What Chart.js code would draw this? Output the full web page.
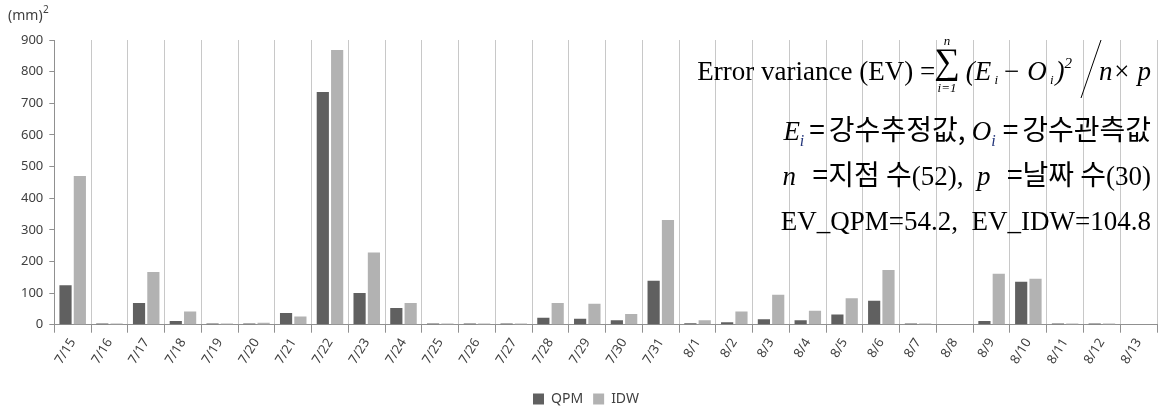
<!DOCTYPE html>
<html>
<head>
<meta charset="utf-8">
<script src="https://cdn.jsdelivr.net/npm/chart.js@4/dist/chart.umd.min.js"></script>
<style>
  html, body { margin: 0; padding: 0; background: #fff; }
  #wrap { position: relative; width: 1161px; height: 413px; }
</style>
</head>
<body>
<div id="wrap"><canvas id="chartCanvas"></canvas></div>
<script>
// 날짜 (카테고리)
const dates = ['7/15','7/16','7/17','7/18','7/19','7/20','7/21','7/22','7/23','7/24',
  '7/25','7/26','7/27','7/28','7/29','7/30','7/31','8/1','8/2','8/3',
  '8/4','8/5','8/6','8/7','8/8','8/9','8/10','8/11','8/12','8/13'];

// 일별 오차분산 (mm)^2
const qpm = [125, 4, 69, 12, 4, 4, 37, 736, 100, 53,
  4, 4, 4, 22, 19, 14, 139, 5, 8, 17,
  14, 32, 76, 4, 0, 12, 136, 4, 4, 0];
const idw = [470, 4, 167, 42, 4, 6, 26, 868, 228, 69,
  4, 4, 4, 69, 66, 34, 331, 14, 42, 95,
  44, 84, 173, 4, 0, 161, 145, 4, 4, 0];

const yTicks = [0, 100, 200, 300, 400, 500, 600, 700, 800, 900];

// 수식 / 주석 그리기
const serif = '"Liberation Serif", "Times New Roman", serif';
const kor = '"Noto Sans CJK KR", sans-serif';

function drawSegs(ctx, segs, right, y) {
  let total = 0;
  segs.forEach(s => { ctx.font = s.font; s.w = ctx.measureText(s.t).width + (s.gap || 0); total += s.w; });
  let x = right - total;
  segs.forEach(s => {
    ctx.font = s.font;
    ctx.fillStyle = s.color || '#000';
    ctx.fillText(s.t, x, y + (s.dy || 0));
    x += s.w;
  });
  return right - total;
}

const notePlugin = {
  id: 'notes',
  afterDraw(chart) {
    const ctx = chart.ctx;
    ctx.save();
    ctx.textBaseline = 'alphabetic';
    ctx.textAlign = 'left';

    // 단위
    ctx.font = '14px "Noto Sans", sans-serif';
    ctx.fillStyle = '#404040';
    ctx.fillText('(mm)', 8, 20);
    ctx.font = '10px "Noto Sans", sans-serif';
    ctx.fillText('2', 43, 13);

    const right = 1151;
    const R = '27px ' + serif, I = 'italic 27px ' + serif, K = '28px ' + kor;
    const Is = 'italic 13px ' + serif, Isub = 'italic 16px ' + serif;
    const subCol = '#23357a';

    // 1행: Error variance (EV) = Σ (Ei - Oi)^2 / n × p
    const y1 = 80;
    const tail = [
      { t: '(', font: I }, { t: 'E', font: I }, { t: ' i', font: Is, dy: 4, gap: 4 },
      { t: '\u2212 ', font: I }, { t: 'O', font: I }, { t: ' i', font: Is, dy: 4, gap: 2 },
      { t: ')', font: I }, { t: '2', font: 'italic 15px ' + serif, dy: -12, gap: 27 },
      { t: 'n\u00d7 p', font: I }
    ];
    const tailStart = drawSegs(ctx, tail, right, y1);
    // 분수 빗금
    ctx.strokeStyle = '#000';
    ctx.lineWidth = 1;
    ctx.beginPath();
    ctx.moveTo(right - 70, 98);
    ctx.lineTo(right - 50, 40);
    ctx.stroke();
    // 시그마
    ctx.font = '36px ' + serif;
    ctx.fillStyle = '#000';
    const sigW = ctx.measureText('\u2211').width;
    const sigX = tailStart - sigW - 6;
    ctx.textBaseline = 'middle';
    ctx.fillText('\u2211', sigX, 64);
    ctx.textBaseline = 'alphabetic';
    ctx.font = Is;
    ctx.textAlign = 'center';
    ctx.fillText('n', sigX + sigW / 2, 45);
    ctx.fillText('i=1', sigX + sigW / 2, 92);
    ctx.textAlign = 'right';
    ctx.font = R;
    ctx.fillText('Error variance (EV) =', sigX + 1, y1);
    ctx.textAlign = 'left';

    // 2행
    drawSegs(ctx, [
      { t: 'E', font: I }, { t: 'i', font: Isub, dy: 6, color: subCol, gap: 5 },
      { t: '=', font: K, gap: 4 }, { t: '강수추정값, ', font: K },
      { t: 'O', font: I }, { t: 'i', font: Isub, dy: 6, color: subCol, gap: 7 },
      { t: '=', font: K, gap: 4 }, { t: '강수관측값', font: K }
    ], right, 140);

    // 3행
    drawSegs(ctx, [
      { t: 'n  ', font: I, gap: 3 }, { t: '=지점 수', font: K }, { t: '(52),  ', font: R },
      { t: 'p  ', font: I, gap: 3 }, { t: '=날짜 수', font: K }, { t: '(30)', font: R }
    ], right, 185);

    // 4행
    drawSegs(ctx, [{ t: 'EV_QPM=54.2,  EV_IDW=104.8', font: R }], right, 230);
    ctx.restore();
  }
};

const ctx = document.getElementById('chartCanvas').getContext('2d');
const chart = new Chart(ctx, {
  type: 'bar',
  data: {
    labels: dates,
    datasets: [{
      label: 'QPM',
      data: qpm,
      backgroundColor: '#606060',
      borderWidth: 0
    }, {
      label: 'IDW',
      data: idw,
      backgroundColor: '#b2b2b2',
      borderWidth: 0
    }]
  },
  options: {
    responsive: true,
    maintainAspectRatio: false,
    animation: false,
    categoryPercentage: 0.78,
    barPercentage: 0.85,
    layout: { padding: { top: 40, right: 4, left: 15, bottom: -3 } },
    plugins: {
      tooltip: { enabled: false },
      legend: {
        position: 'bottom',
        labels: {
          boxWidth: 11, boxHeight: 11, padding: 10,
          color: '#404040',
          font: { family: '"Noto Sans", sans-serif', size: 14 }
        }
      }
    },
    scales: {
      x: {
        afterFit(scale) { scale.height += 12; },
        grid: { offset: true, color: '#c8c8c8', tickLength: 8, tickColor: '#909090' },
        border: { color: '#909090' },
        ticks: {
          minRotation: 58, maxRotation: 58,
          color: '#404040',
          font: { family: '"Noto Sans", sans-serif', size: 13 }
        }
      },
      y: {
        min: 0, max: 900,
        afterBuildTicks(scale) { scale.ticks = yTicks.map(v => ({ value: v })); },
        grid: { drawOnChartArea: false, tickLength: 5, tickColor: '#909090' },
        border: { color: '#909090' },
        ticks: {
          padding: 6,
          color: '#404040',
          font: { family: '"Noto Sans", sans-serif', size: 13 }
        }
      }
    }
  },
  plugins: [notePlugin]
});
</script>
</body>
</html>
